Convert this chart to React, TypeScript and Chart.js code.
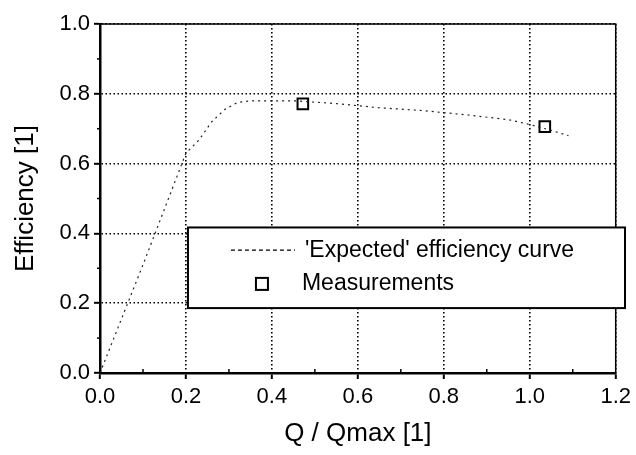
import React, { useEffect, useRef } from "react";
import { Chart, registerables } from "chart.js";

Chart.register(...registerables);

const curveQ = [0, 0.05, 0.1, 0.15, 0.2, 0.23, 0.26, 0.29, 0.32, 0.35, 0.45, 0.55, 0.65, 0.75, 0.85, 0.95, 1.0, 1.05, 1.09];
const curveEff = [0, 0.155, 0.31, 0.47, 0.63, 0.667, 0.72, 0.755, 0.775, 0.78, 0.78, 0.772, 0.76, 0.752, 0.74, 0.726, 0.712, 0.695, 0.68];
const measQ = [0.472, 1.035];
const measEff = [0.771, 0.706];
const curveLabel = "'Expected' efficiency curve";
const measLabel = "Measurements";
const xTitle = "Q / Qmax [1]";
const yTitle = "Efficiency [1]";

const FONT = "'Liberation Sans', Arial, Helvetica, sans-serif";

const framePlugin = {
  id: "frame",
  afterDatasetsDraw(chart: any) {
    const { ctx, chartArea, scales } = chart;
    const { left, right, top, bottom } = chartArea;
    ctx.save();
    ctx.strokeStyle = "#000";
    ctx.lineWidth = 1.5;
    ctx.beginPath();
    ctx.moveTo(left, top);
    ctx.lineTo(right, top);
    ctx.lineTo(right, bottom);
    ctx.stroke();
    const xs = scales.x;
    const ys = scales.y;
    for (let v = 0.1; v < 1.2; v += 0.2) {
      const px = xs.getPixelForValue(v);
      ctx.beginPath();
      ctx.moveTo(px, bottom);
      ctx.lineTo(px, bottom - 4);
      ctx.stroke();
    }
    for (let v = 0.1; v < 1.0; v += 0.2) {
      const py = ys.getPixelForValue(v);
      ctx.beginPath();
      ctx.moveTo(left, py);
      ctx.lineTo(left - 3, py);
      ctx.stroke();
    }
    const bx = xs.getPixelForValue(0.2) + 2;
    const bTop = ys.getPixelForValue(0.417);
    const bBottom = ys.getPixelForValue(0.186);
    const bRight = 625;
    ctx.fillStyle = "#fff";
    ctx.fillRect(bx, bTop, bRight - bx, bBottom - bTop);
    ctx.strokeStyle = "#000";
    ctx.lineWidth = 2;
    ctx.strokeRect(bx, bTop, bRight - bx, bBottom - bTop);
    const row1 = bTop + (bBottom - bTop) * 0.28;
    const row2 = bTop + (bBottom - bTop) * 0.7;
    ctx.lineWidth = 1.2;
    ctx.setLineDash([4, 3]);
    ctx.beginPath();
    ctx.moveTo(bx + 43, row1);
    ctx.lineTo(bx + 107, row1);
    ctx.stroke();
    ctx.setLineDash([]);
    ctx.lineWidth = 2;
    ctx.strokeRect(bx + 68, row2 - 6, 12, 12);
    ctx.fillStyle = "#000";
    ctx.font = "23px " + FONT;
    ctx.textBaseline = "middle";
    ctx.textAlign = "left";
    ctx.fillText(curveLabel, bx + 117, row1 + 1);
    ctx.fillText(measLabel, bx + 114, row2);
    ctx.restore();
  },
};

export default function App() {
  const ref = useRef<HTMLCanvasElement>(null);
  useEffect(() => {
    document.body.style.margin = "0";
    const canvas = ref.current!;
    const chart = new Chart(canvas, {
      type: "scatter",
      data: {
        datasets: [
          {
            label: curveLabel,
            data: curveQ.map((q, i) => ({ x: q, y: curveEff[i] })),
            showLine: true,
            borderColor: "#222",
            borderWidth: 1.2,
            borderDash: [2, 4],
            pointRadius: 0,
            tension: 0,
          },
          {
            label: measLabel,
            data: measQ.map((q, i) => ({ x: q, y: measEff[i] })),
            showLine: false,
            pointStyle: "rect",
            pointRadius: 7.5,
            borderColor: "#000",
            borderWidth: 2,
            backgroundColor: "#fff",
          },
        ],
      },
      options: {
        animation: false,
        responsive: false,
        maintainAspectRatio: false,
        layout: { padding: { left: 0, top: 24, right: 20, bottom: 0 } },
        plugins: { legend: { display: false }, tooltip: { enabled: false } },
        scales: {
          x: {
            type: "linear",
            min: 0,
            max: 1.2,
            afterFit: (s: any) => {
              s.height = 82;
            },
            ticks: {
              stepSize: 0.2,
              color: "#000",
              padding: 5,
              font: { family: FONT, size: 22 },
              callback: (v: any) => Number(v).toFixed(1),
            },
            grid: {
              color: "#000",
              lineWidth: 1.6,
              tickLength: 6,
              tickColor: "#000",
              tickWidth: 2,
              tickBorderDash: [],
            },
            border: { color: "#000", width: 2.5, dash: [1.5, 2.5] },
            title: {
              display: true,
              text: xTitle,
              color: "#000",
              font: { family: FONT, size: 26 },
              padding: { top: 0, bottom: 6 },
            },
          },
          y: {
            type: "linear",
            min: 0,
            max: 1.0,
            afterFit: (s: any) => {
              s.width = 100;
            },
            ticks: {
              stepSize: 0.2,
              color: "#000",
              padding: 4,
              font: { family: FONT, size: 22 },
              callback: (v: any) => Number(v).toFixed(1),
            },
            grid: {
              color: "#000",
              lineWidth: 1.6,
              tickLength: 6,
              tickColor: "#000",
              tickWidth: 2,
              tickBorderDash: [],
            },
            border: { color: "#000", width: 2.5, dash: [1.5, 2.5] },
            title: {
              display: true,
              text: yTitle,
              color: "#000",
              font: { family: FONT, size: 26 },
              padding: { top: 10, bottom: 0 },
            },
          },
        },
      },
      plugins: [framePlugin],
    });
    return () => chart.destroy();
  }, []);
  return <canvas ref={ref} width={636} height={455} style={{ display: "block" }} />;
}
